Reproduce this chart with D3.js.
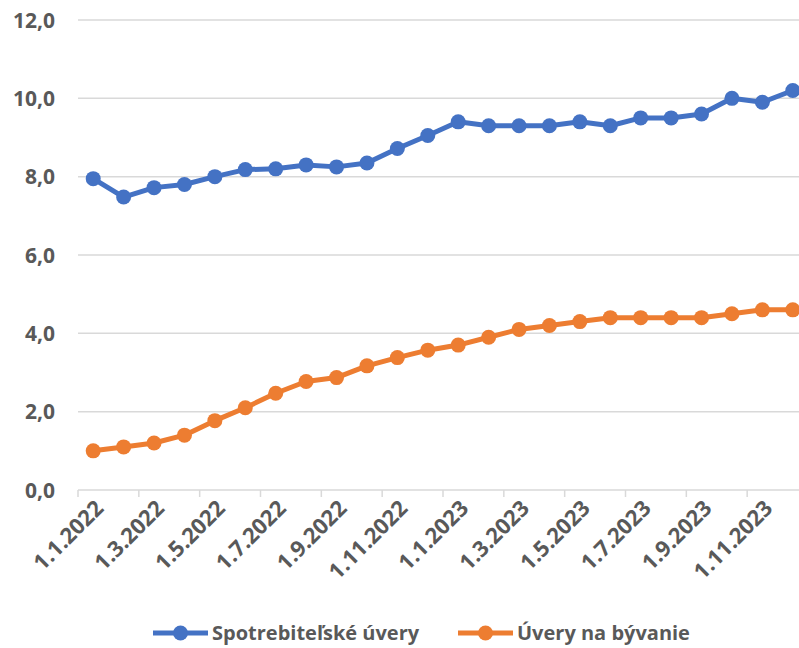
<!DOCTYPE html>
<html>
<head>
<meta charset="utf-8">
<script src="https://cdn.jsdelivr.net/npm/d3@7"></script>
<style>
  body { margin: 0; background: #fff; }
  text { font-family: "Open Sans", sans-serif; font-weight: bold; fill: #595959; }
</style>
</head>
<body>
<div id="chart"></div>
<script>
// months 1.1.2022 .. 1.12.2023
var months = ["1.1.2022","1.2.2022","1.3.2022","1.4.2022","1.5.2022","1.6.2022",
              "1.7.2022","1.8.2022","1.9.2022","1.10.2022","1.11.2022","1.12.2022",
              "1.1.2023","1.2.2023","1.3.2023","1.4.2023","1.5.2023","1.6.2023",
              "1.7.2023","1.8.2023","1.9.2023","1.10.2023","1.11.2023","1.12.2023"];

var spotrebitelske = [7.95, 7.48, 7.72, 7.8, 8.0, 8.18, 8.2, 8.3, 8.25, 8.35, 8.72, 9.05,
                      9.4, 9.3, 9.3, 9.3, 9.4, 9.3, 9.5, 9.5, 9.6, 10.0, 9.9, 10.2];

var byvanie = [1.0, 1.1, 1.2, 1.4, 1.77, 2.1, 2.47, 2.77, 2.87, 3.17, 3.38, 3.57,
               3.7, 3.9, 4.1, 4.2, 4.3, 4.4, 4.4, 4.4, 4.4, 4.5, 4.6, 4.6];

var yTicks = [0, 2, 4, 6, 8, 10, 12];

var seriesNames = ["Spotrebiteľské úvery", "Úvery na bývanie"];
var seriesColors = ["#4472C4", "#ED7D31"];

function init() {
    var w = 799, h = 648;
    var left = 78, right = 808, top = 20, bottom = 490;

    var svg = d3.select("#chart").append("svg")
                .attr("width", w)
                .attr("height", h);

    var x = d3.scaleBand().domain(months).range([left, right]);
    var y = d3.scaleLinear().domain([0, 12]).range([bottom, top]);

    //gridlines
    svg.selectAll(".grid")
        .data(yTicks)
        .enter()
        .append("line")
        .attr("x1", left)
        .attr("x2", w)
        .attr("y1", function(d){ return y(d); })
        .attr("y2", function(d){ return y(d); })
        .style("stroke", "#d9d9d9")
        .style("stroke-width", 1.5);

    //y labels
    svg.selectAll(".ylab")
        .data(yTicks)
        .enter()
        .append("text")
        .attr("x", 55)
        .attr("y", function(d){ return y(d); })
        .attr("dy", "0.36em")
        .attr("text-anchor", "end")
        .style("font-size", "21px")
        .text(function(d){ return d3.format(".1f")(d).replace(".", ","); });

    //x tick marks, every two months
    var shown = months.filter(function(d, i){ return i % 2 == 0; });
    svg.selectAll(".xtick")
        .data(shown)
        .enter()
        .append("line")
        .attr("x1", function(d){ return x(d); })
        .attr("x2", function(d){ return x(d); })
        .attr("y1", bottom)
        .attr("y2", bottom + 7)
        .style("stroke", "#d9d9d9")
        .style("stroke-width", 1.5);

    //x labels
    svg.selectAll(".xlab")
        .data(shown)
        .enter()
        .append("text")
        .attr("transform", function(d){
            return "translate(" + (x(d) + x.bandwidth()/2 + 6) + "," + (bottom + 14) + ") rotate(-45)";
        })
        .attr("dy", "0.36em")
        .attr("text-anchor", "end")
        .style("font-size", "22px")
        .text(function(d){ return d; });

    //series
    var allSeries = [spotrebitelske, byvanie];
    var line = d3.line()
        .x(function(d, i){ return x(months[i]) + x.bandwidth()/2; })
        .y(function(d){ return y(d); });

    allSeries.forEach(function(vals, s){
        svg.append("path")
            .datum(vals)
            .attr("d", line)
            .style("fill", "none")
            .style("stroke", seriesColors[s])
            .style("stroke-width", 5)
            .style("stroke-linejoin", "round");

        svg.selectAll(".dot" + s)
            .data(vals)
            .enter()
            .append("circle")
            .attr("cx", function(d, i){ return x(months[i]) + x.bandwidth()/2; })
            .attr("cy", function(d){ return y(d); })
            .attr("r", 7.5)
            .style("fill", seriesColors[s]);
    });

    //legend
    var legendX = [153, 458];
    var legendY = 633;
    seriesNames.forEach(function(name, s){
        var g = svg.append("g").attr("transform", "translate(" + legendX[s] + "," + legendY + ")");
        g.append("line")
            .attr("x1", 0).attr("x2", 55)
            .attr("y1", 0).attr("y2", 0)
            .style("stroke", seriesColors[s])
            .style("stroke-width", 5);
        g.append("circle")
            .attr("cx", 27.5).attr("cy", 0).attr("r", 7.5)
            .style("fill", seriesColors[s]);
        g.append("text")
            .attr("x", 59)
            .attr("y", 0)
            .attr("dy", "0.36em")
            .style("font-size", "20px")
            .text(name);
    });
}

window.onload = init;
</script>
</body>
</html>
